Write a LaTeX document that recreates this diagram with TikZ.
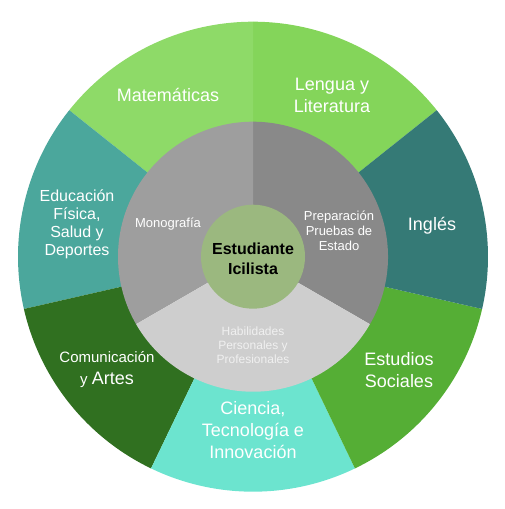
\documentclass[tikz,border=0pt]{standalone}
\usepackage{fontspec}
\setmainfont{Liberation Sans}
\definecolor{cMat}{HTML}{8EDA68}
\definecolor{cLen}{HTML}{84D55A}
\definecolor{cIng}{HTML}{357A76}
\definecolor{cEst}{HTML}{55AE35}
\definecolor{cCie}{HTML}{6CE4CF}
\definecolor{cCom}{HTML}{307020}
\definecolor{cEdu}{HTML}{4BA79C}
\definecolor{cMon}{HTML}{9E9E9E}
\definecolor{cPre}{HTML}{898989}
\definecolor{cHab}{HTML}{CECECE}
\definecolor{cCen}{HTML}{9BB87F}
\tikzset{
  big/.style={text=white,align=center,inner sep=0pt,font=\fontsize{18}{22}\selectfont},
  mid/.style={text=white,align=center,inner sep=0pt,font=\fontsize{16}{18}\selectfont},
  small/.style={text=white,align=center,inner sep=0pt,font=\fontsize{13}{15}\selectfont},
  tiny/.style={text=white!94!black,align=center,inner sep=0pt,font=\fontsize{12}{14}\selectfont},
}
\newcommand{\ringsector}[5]{% color, a1, a2, r, R
  \fill[#1] (#2:#5) arc[start angle=#2,end angle=#3,radius=#5] -- (#3:#4) arc[start angle=#3,end angle=#2,radius=#4] -- cycle;}
\begin{document}
\begin{tikzpicture}[x=1pt,y=1pt]
\useasboundingbox (0,0) rectangle (504,509);
\begin{scope}[shift={(253,252.3)}]
  \ringsector{cLen}{38.571}{90}{134}{235}
  \ringsector{cMat}{90}{141.429}{134}{235}
  \ringsector{cEdu}{141.429}{192.857}{134}{235}
  \ringsector{cCom}{192.857}{244.286}{134}{235}
  \ringsector{cCie}{244.286}{295.714}{134}{235}
  \ringsector{cEst}{295.714}{347.143}{134}{235}
  \ringsector{cIng}{347.143}{398.571}{134}{235}
  \ringsector{cPre}{-30}{90}{0}{135}
  \ringsector{cMon}{90}{210}{0}{135}
  \ringsector{cHab}{210}{330}{0}{135}
  \fill[cCen] (0,0) circle[radius=52];
\end{scope}
\node[big] (mat) at (168,509-95) {Matemáticas};
\node[big] (len) at (332,509-95) {Lengua y\\Literatura};
\node[big] (ing) at (432,509-226) {Inglés};
\node[big] (est) at (399,509-370) {Estudios\\Sociales};
\node[big] (cie) at (253,509-430) {Ciencia,\\Tecnología e\\Innovación};
\node[text=white,align=center,inner sep=0pt,font=\fontsize{15}{20}\selectfont] (com) at (107,509-370)
  {Comunicación\\[2pt]y {\fontsize{18}{20}\selectfont Artes}};
\node[mid] (edu) at (77,509-224) {Educación\\Física,\\Salud y\\Deportes};
\node[small] (mon) at (168,509-224) {Monografía};
\node[small] (pre) at (339,509-231) {Preparación\\Pruebas de\\Estado};
\node[tiny] (hab) at (253,509-345) {Habilidades\\Personales y\\Profesionales};
\node[align=center,inner sep=0pt,font=\fontsize{16}{19.5}\selectfont\bfseries] (cen) at (253,509-259) {Estudiante\\Icilista};
\end{tikzpicture}
\end{document}
